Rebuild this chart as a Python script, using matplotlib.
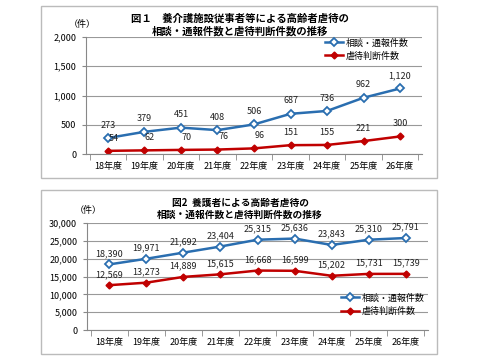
import matplotlib.pyplot as plt
from matplotlib.patches import Rectangle

plt.rcParams['font.family'] = ['Noto Sans CJK JP', 'DejaVu Sans']

years = ['18年度', '19年度', '20年度', '21年度', '22年度', '23年度', '24年度', '25年度', '26年度']

# 図1 養介護施設従事者等
staff_reports = [273, 379, 451, 408, 506, 687, 736, 962, 1120]
staff_abuse = [54, 62, 70, 76, 96, 151, 155, 221, 300]

# 図2 養護者
family_reports = [18390, 19971, 21692, 23404, 25315, 25636, 23843, 25310, 25791]
family_abuse = [12569, 13273, 14889, 15615, 16668, 16599, 15202, 15731, 15739]

BLUE = '#2A6EB0'
RED = '#C00000'
W, H = 480, 360


def px(x0, y0, x1, y1):
    # pixel box (top-left origin) -> figure fraction [l, b, w, h]
    return [x0 / W, 1 - y1 / H, (x1 - x0) / W, (y1 - y0) / H]


def draw(fig, box, frame, title, title_y, title_size, unit_xy, reports, abuse,
         ymax, ystep, label_off, legend_loc, legend_anchor):
    l, b, w, h = px(*frame)
    fig.patches.append(Rectangle((l, b), w, h, transform=fig.transFigure,
                                 fill=False, edgecolor='#BBBBBB', linewidth=1))
    fig.text(0.5, 1 - title_y / H, title, ha='center', va='center',
             fontsize=title_size, fontweight='bold', linespacing=1.3)
    fig.text(unit_xy[0] / W, 1 - unit_xy[1] / H, '（件）', fontsize=6.5,
             ha='center', va='center')

    ax = fig.add_axes(px(*box))
    x = range(len(years))
    ax.plot(x, reports, color=BLUE, linewidth=1.8, marker='D', markersize=4,
            markerfacecolor='white', markeredgecolor=BLUE, markeredgewidth=1.3,
            label='相談・通報件数')
    ax.plot(x, abuse, color=RED, linewidth=1.8, marker='D', markersize=3.5,
            markerfacecolor=RED, markeredgecolor=RED, label='虐待判断件数')
    for i in x:
        ax.annotate(f'{reports[i]:,}', (i, reports[i]), xytext=(0, label_off),
                    textcoords='offset points', ha='center', va='bottom',
                    fontsize=6.5, color='#222222')
        dx = 4 if abuse[i] < ymax * 0.05 else 0
        ax.annotate(f'{abuse[i]:,}', (i, abuse[i]), xytext=(dx, label_off),
                    textcoords='offset points', ha='center', va='bottom',
                    fontsize=6.5, color='#222222')

    ax.set_xlim(-0.6, len(years) - 0.4)
    ax.set_ylim(0, ymax)
    ticks = list(range(0, ymax + 1, ystep))
    ax.set_yticks(ticks)
    ax.set_yticklabels([f'{t:,}' for t in ticks], fontsize=6.5)
    ax.set_xticks(list(x))
    ax.set_xticklabels(years, fontsize=6.5)
    ax.set_xticks([i + 0.5 for i in range(-1, len(years))], minor=True)
    ax.tick_params(axis='x', which='major', length=0, pad=6)
    ax.tick_params(axis='x', which='minor', length=4, color='#888888')
    ax.tick_params(axis='y', length=3, color='#888888', pad=4)
    ax.grid(axis='y', color='#999999', linewidth=0.8)
    ax.set_axisbelow(True)
    for s in ['top', 'right']:
        ax.spines[s].set_visible(False)
    for s in ['left', 'bottom']:
        ax.spines[s].set_color('#888888')
    ax.legend(loc=legend_loc, bbox_to_anchor=legend_anchor, frameon=False,
              fontsize=6.5, handlelength=2.0, handletextpad=0.3,
              labelspacing=0.45, borderaxespad=0)
    return ax


fig = plt.figure(figsize=(4.8, 3.6), dpi=100)
fig.patch.set_facecolor('white')

draw(fig, (86, 37, 422, 154), (41, 6, 437, 178),
     '図１　養介護施設従事者等による高齢者虐待の\n相談・通報件数と虐待判断件数の推移', 25, 7.5,
     (82, 24), staff_reports, staff_abuse, 2000, 500, 6,
     'upper right', (0.97, 1.02))

draw(fig, (87, 223, 428, 330), (41, 190, 437, 354),
     '図2  養護者による高齢者虐待の\n相談・通報件数と虐待判断件数の推移', 209, 7,
     (88, 210), family_reports, family_abuse, 30000, 5000, 4.5,
     'lower right', (1.0, 0.1))

fig.savefig('out.png', dpi=100)
